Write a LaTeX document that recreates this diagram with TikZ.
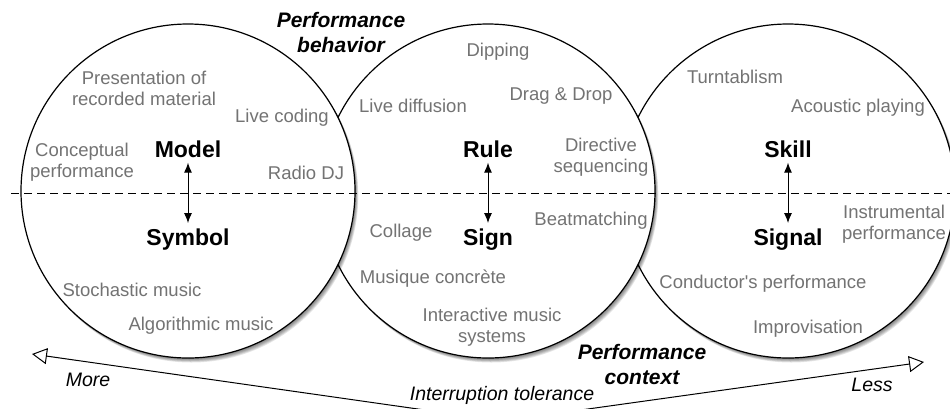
\documentclass[tikz,border=0pt]{standalone}
\usepackage{fontspec}
\setmainfont{Liberation Sans}
\newfontfamily\plainsans{Liberation Sans}
\usetikzlibrary{arrows.meta}
\definecolor{itemgray}{RGB}{115,115,115}
\tikzset{
  item/.style={text=itemgray, font=\fontsize{18.5}{21}\selectfont, align=center, inner sep=1pt},
  key/.style={font=\fontsize{23}{26}\selectfont\bfseries, inner sep=1pt},
  axislabel/.style={font=\fontsize{19.5}{22}\selectfont\itshape, inner sep=1pt},
  title/.style={font=\fontsize{21}{25}\selectfont\bfseries\itshape, align=center, inner sep=1pt},
  ring/.style={draw=black, line width=1.2pt, fill=white},
  dual/.style={{Latex[length=10pt,width=8pt]}-{Latex[length=10pt,width=8pt]}, line width=1pt},
  scale arrow/.style={{Triangle[open,length=15pt,width=16pt]}-{Triangle[open,length=15pt,width=16pt]}, line width=1pt},
}
\newcommand{\shadowring}[2]{%
  \foreach \s in {1,...,6}{\fill[black, opacity=0.1] (#1+\s*0.55, #2+\s*0.75) circle (167);}%
  \draw[ring] (#1,#2) circle (167);}
\begin{document}
\begin{tikzpicture}[x=1pt, y=-1pt]
\clip (0,0) rectangle (950,408);
\fill[white] (0,0) rectangle (950,408);
% circles: right, middle, left (left on top)
\shadowring{788}{191}
\shadowring{488}{191}
\shadowring{188}{191}
% dashed divider
\coordinate (dl) at (11,193);
\coordinate (dr) at (950,193);
\draw[line width=1pt, dash pattern=on 8pt off 5pt] (dl) -- (dr);
% key labels
\node[key] (model) at (188,149) {Model};
\node[key] (symbol) at (188,240) {Symbol};
\node[key] (rule) at (488,149) {Rule};
\node[key] (sign) at (488,240) {Sign};
\node[key] (skill) at (788,149) {Skill};
\node[key] (signal) at (788,240) {Signal};
\draw[dual] ([yshift=-4pt]model.south) -- ([yshift=5pt]symbol.north);
\draw[dual] ([yshift=-4pt]rule.south) -- ([yshift=5pt]sign.north);
\draw[dual] ([yshift=-4pt]skill.south) -- ([yshift=5pt]signal.north);
% left circle items
\node[item] (pres) at (144,88) {Presentation of\\recorded material};
\node[item] (live) at (282,118) {Live coding};
\node[item] (concept) at (82,162) {Conceptual\\performance};
\node[item] (radio) at (306,173) {Radio DJ};
\node[item] (stoch) at (132,290) {Stochastic music};
\node[item] (algo) at (201,326) {Algorithmic music};
% middle circle items
\node[item] (dip) at (498,52) {Dipping};
\node[item] (drag) at (561,96) {Drag \& Drop};
\node[item] (diff) at (413,106) {Live diffusion};
\node[item] (direct) at (601,157) {Directive\\sequencing};
\node[item] (beat) at (591,221) {Beatmatching};
\node[item] (coll) at (401,233) {Collage};
\node[item] (musique) at (433,279) {Musique concrète};
\node[item] (inter) at (492,327) {Interactive music\\systems};
% right circle items
\node[item] (turn) at (735,77) {Turntablism};
\node[item] (acou) at (858,108) {Acoustic playing};
\node[item] (instr) at (894,224) {Instrumental\\performance};
\node[item] (cond) at (763,284) {\plainsans Conductor's performance};
\node[item] (impro) at (808,329) {Improvisation};
% titles
\node[title] (behav) at (341,32) {Performance\\behavior};
\node[title] (context) at (642,364) {Performance\\context};
% interruption tolerance scale
\coordinate (moretip) at (32,354);
\coordinate (low) at (502,421);
\coordinate (lesstip) at (924,362);
\draw[scale arrow] (moretip) -- (low) -- (lesstip);
\node[axislabel] (more) at (88,380) {More};
\node[axislabel] (less) at (872,385) {Less};
\node[axislabel] (tol) at (502,395) {Interruption tolerance};
\end{tikzpicture}
\end{document}
